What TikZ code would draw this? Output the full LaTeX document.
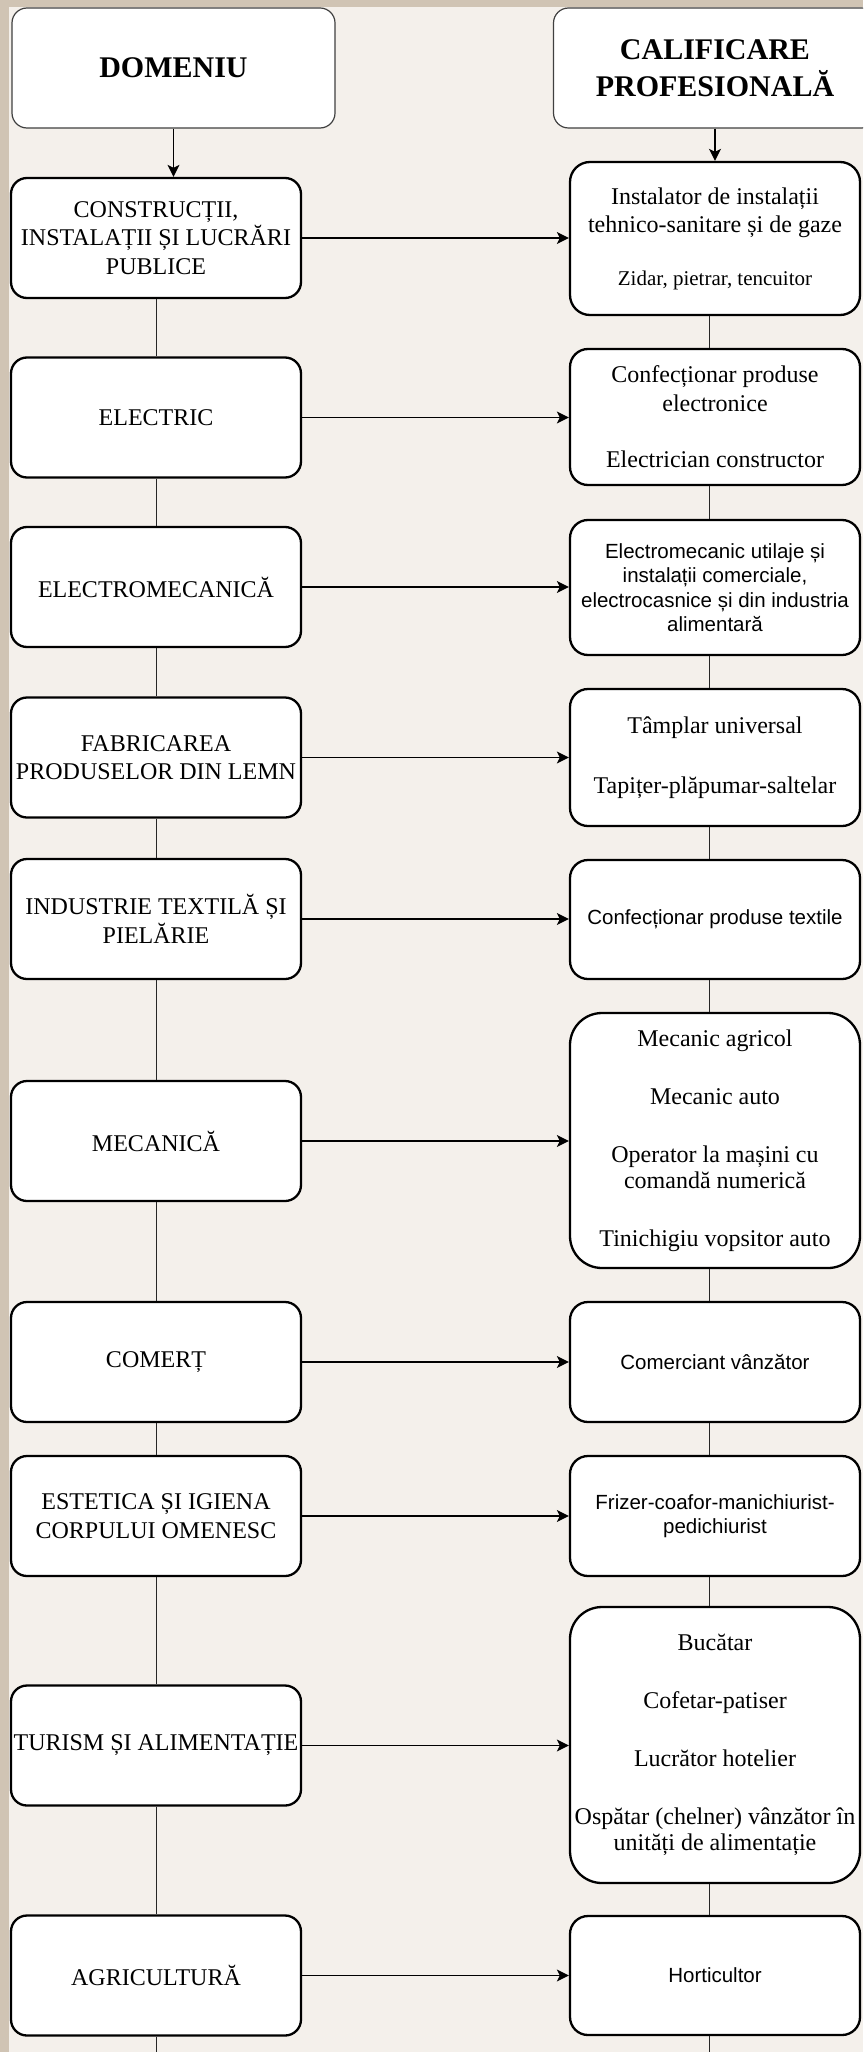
\documentclass[tikz,border=0pt]{standalone}
\usepackage{fontspec}
\setmainfont{Liberation Serif}
\newfontfamily\arialf{Liberation Sans}
\usetikzlibrary{arrows.meta}
\definecolor{bgc}{RGB}{244,240,235}
\definecolor{tanc}{RGB}{208,196,180}
\begin{document}
\begin{tikzpicture}[x=1pt,y=-1pt,
  titlebox/.style={draw=black!75, line width=1.2pt, fill=white, rounded corners=15pt,
    minimum width=323pt, minimum height=120pt, inner sep=0pt, align=center,
    font=\fontsize{30}{37}\selectfont\bfseries},
  lbox/.style={draw=black, line width=2.3pt, fill=white, rounded corners=16pt,
    minimum width=290pt, minimum height=120pt, inner sep=0pt, align=center,
    font=\fontsize{24}{28.5}\selectfont},
  rbox/.style={draw=black, line width=2.3pt, fill=white, rounded corners=18pt,
    minimum width=290pt, inner sep=0pt, align=center,
    font=\fontsize{24}{28.5}\selectfont},
  sanstxt/.style={font=\arialf\fontsize{20.5}{24.5}\selectfont},
  listtxt/.style={font=\fontsize{24}{26}\selectfont},
  link/.style={draw=black!85, line width=1pt},
  arr/.style={draw=black, line width=1.3pt, -{Stealth[length=12pt,width=12pt,inset=3pt]}},
]
\useasboundingbox (0,0) rectangle (863,2052);
\clip (0,0) rectangle (863,2052);
\fill[bgc] (0,0) rectangle (863,2052);
\fill[tanc] (0,0) rectangle (863,7);
\fill[tanc] (0,0) rectangle (9,2052);

% title boxes
\node[titlebox] (dom) at (173.5,68) {DOMENIU};
\node[titlebox] (cal) at (715,68) {CALIFICARE\\PROFESIONALĂ};

% left column
\node[lbox] (l1) at (156,238) {CONSTRUCȚII,\\INSTALAȚII ȘI LUCRĂRI\\PUBLICE};
\node[lbox] (l2) at (156,417.5) {ELECTRIC};
\node[lbox] (l3) at (156,587) {ELECTROMECANICĂ};
\node[lbox] (l4) at (156,757.5) {FABRICAREA\\PRODUSELOR DIN LEMN};
\node[lbox] (l5) at (156,919) {INDUSTRIE TEXTILĂ ȘI\\PIELĂRIE};
\node[lbox] (l6) at (156,1141) {MECANICĂ};
\node[lbox] (l7) at (156,1362) {COMERȚ};
\node[lbox] (l8) at (156,1516) {ESTETICA ȘI IGIENA\\CORPULUI OMENESC};
\node[lbox] (l9) at (156,1745.5) {TURISM ȘI ALIMENTAȚIE};
\node[lbox] (l10) at (156,1975.5) {AGRICULTURĂ};

% right column
\node[rbox, minimum height=153pt, rounded corners=20pt] (r1) at (715,238.5)
  {Instalator de instalații\\tehnico-sanitare și de gaze\\[24pt]{\fontsize{21}{28.5}\selectfont Zidar, pietrar, tencuitor}};
\node[rbox, minimum height=136pt] (r2) at (715,417)
  {Confecționar produse\\electronice\\[28pt]Electrician constructor};
\node[rbox, sanstxt, minimum height=135pt] (r3) at (715,587.5)
  {Electromecanic utilaje și\\instalații comerciale,\\electrocasnice și din industria\\alimentară};
\node[rbox, minimum height=137pt] (r4) at (715,757.5)
  {Tâmplar universal\\[32pt]Tapițer-plăpumar-saltelar};
\node[rbox, sanstxt, minimum height=119pt] (r5) at (715,919.5)
  {Confecționar produse textile};
\node[rbox, listtxt, minimum height=255pt, rounded corners=32pt] (r6) at (715,1140.5)
  {Mecanic agricol\\[32pt]Mecanic auto\\[32pt]Operator la mașini cu\\comandă numerică\\[32pt]Tinichigiu vopsitor auto};
\node[rbox, sanstxt, minimum height=120pt] (r7) at (715,1362)
  {Comerciant vânzător};
\node[rbox, sanstxt, minimum height=120pt] (r8) at (715,1516)
  {Frizer-coafor-manichiurist-\\pedichiurist};
\node[rbox, listtxt, minimum height=276pt, rounded corners=32pt] (r9) at (715,1745)
  {Bucătar\\[32pt]Cofetar-patiser\\[32pt]Lucrător hotelier\\[32pt]Ospătar (chelner) vânzător în\\unități de alimentație};
\node[rbox, sanstxt, minimum height=119pt] (r10) at (715,1975.5)
  {Horticultor};

% helper coordinates
\coordinate (rx) at (709,0);
\coordinate (lb) at (156,2052);
\coordinate (rb) at (709,2052);

% title arrows
\draw[arr] (dom.south) -- (dom.south |- l1.north);
\draw[arr] (cal.south) -- (cal.south |- r1.north);

% vertical links, left
\draw[link] (l1.south) -- (l2.north);
\draw[link] (l2.south) -- (l3.north);
\draw[link] (l3.south) -- (l4.north);
\draw[link] (l4.south) -- (l5.north);
\draw[link] (l5.south) -- (l6.north);
\draw[link] (l6.south) -- (l7.north);
\draw[link] (l7.south) -- (l8.north);
\draw[link] (l8.south) -- (l9.north);
\draw[link] (l9.south) -- (l10.north);
\draw[link] (l10.south) -- (lb);

% vertical links, right
\draw[link] (r1.south -| rx) -- (r2.north -| rx);
\draw[link] (r2.south -| rx) -- (r3.north -| rx);
\draw[link] (r3.south -| rx) -- (r4.north -| rx);
\draw[link] (r4.south -| rx) -- (r5.north -| rx);
\draw[link] (r5.south -| rx) -- (r6.north -| rx);
\draw[link] (r6.south -| rx) -- (r7.north -| rx);
\draw[link] (r7.south -| rx) -- (r8.north -| rx);
\draw[link] (r8.south -| rx) -- (r9.north -| rx);
\draw[link] (r9.south -| rx) -- (r10.north -| rx);
\draw[link] (r10.south -| rx) -- (rb);

% horizontal arrows
\draw[arr] (l1.east) -- (l1.east -| r1.west);
\draw[arr] (l2.east) -- (l2.east -| r2.west);
\draw[arr] (l3.east) -- (l3.east -| r3.west);
\draw[arr] (l4.east) -- (l4.east -| r4.west);
\draw[arr] (l5.east) -- (l5.east -| r5.west);
\draw[arr] (l6.east) -- (l6.east -| r6.west);
\draw[arr] (l7.east) -- (l7.east -| r7.west);
\draw[arr] (l8.east) -- (l8.east -| r8.west);
\draw[arr] (l9.east) -- (l9.east -| r9.west);
\draw[arr] (l10.east) -- (l10.east -| r10.west);
\end{tikzpicture}
\end{document}
